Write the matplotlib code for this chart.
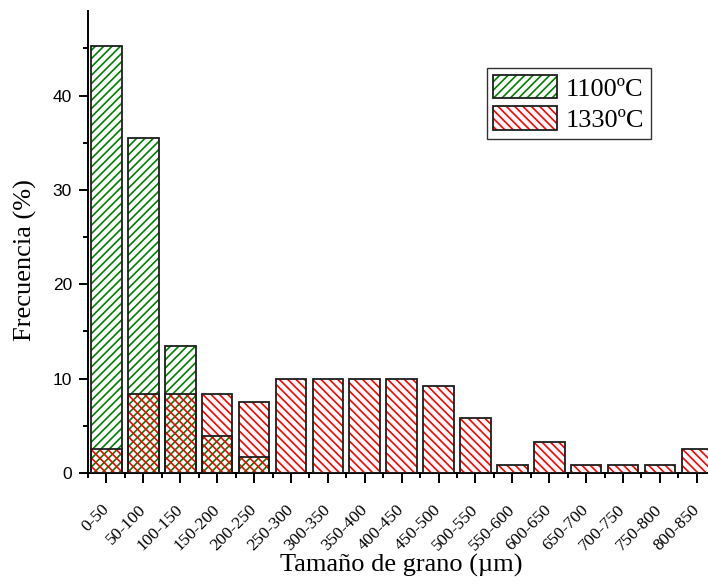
import matplotlib
matplotlib.use("Agg")
import matplotlib.pyplot as plt
import numpy as np
from matplotlib.patches import Patch
from matplotlib.legend_handler import HandlerTuple
from matplotlib.ticker import MultipleLocator

# Grain-size classes (µm) and frequency (%) for each sintering temperature
categories = ['0-50', '50-100', '100-150', '150-200', '200-250', '250-300',
              '300-350', '350-400', '400-450', '450-500', '500-550', '550-600',
              '600-650', '650-700', '700-750', '750-800', '800-850']
freq_1100 = [45.3, 35.5, 13.5, 3.9, 1.7, 0, 0, 0, 0, 0, 0, 0, 0, 0, 0, 0, 0]
freq_1330 = [2.5, 8.33, 8.33, 8.33, 7.5, 10.0, 10.0, 10.0, 10.0, 9.17, 5.83,
             0.83, 3.33, 0.83, 0.83, 0.83, 2.5]
series_labels = ['1100ºC', '1330ºC']

GREEN = '#008000'
RED = '#ff0000'
EDGE = '#1e1e1e'
SERIF = 'Liberation Serif'
SANS = 'Liberation Sans'
HATCH_G = '////'
HATCH_R = '\\\\\\\\'

plt.rcParams['hatch.linewidth'] = 1.2

fig = plt.figure(figsize=(7.08, 5.86), dpi=100)
ax = fig.add_axes([0.1243, 0.1928, 0.886, 0.789])

x = np.arange(len(categories))
width = 0.83
g = np.array(freq_1100)
r = np.array(freq_1330)
gm = g > 0
rm = r > 0

# hatched fills: green first, red on top with transparent face so both show
ax.bar(x[gm], g[gm], width, facecolor='white', edgecolor=GREEN,
       hatch=HATCH_G, linewidth=0, zorder=2)
ax.bar(x[rm], r[rm], width, facecolor='none', edgecolor=RED,
       hatch=HATCH_R, linewidth=0, zorder=3)
# dark outlines
ax.bar(x[gm], g[gm], width, facecolor='none', edgecolor=EDGE,
       linewidth=1.3, zorder=4)
ax.bar(x[rm], r[rm], width, facecolor='none', edgecolor=EDGE,
       linewidth=1.3, zorder=4)

ax.set_xlim(-0.5, 16.5)
ax.set_ylim(0, 49)

for side in ('top', 'right'):
    ax.spines[side].set_visible(False)
for side in ('left', 'bottom'):
    ax.spines[side].set_linewidth(1.4)
    ax.spines[side].set_color('black')

ax.set_xticks(x)
ax.set_xticks(np.arange(-0.5, len(categories), 1.0), minor=True)
ax.yaxis.set_major_locator(MultipleLocator(10))
ax.yaxis.set_minor_locator(MultipleLocator(5))

ax.tick_params(axis='x', which='major', direction='out', length=7.5,
               width=1.4, pad=17)
ax.tick_params(axis='x', which='minor', direction='out', length=3.8,
               width=1.4)
ax.tick_params(axis='y', which='major', direction='out', length=6.5,
               width=1.4, pad=5, labelsize=12.5)
ax.tick_params(axis='y', which='minor', direction='out', length=3.8,
               width=1.4)

ax.set_xticklabels(categories, rotation=45, ha='right', va='center',
                   rotation_mode='anchor', family=SERIF, fontsize=12.5)
for lbl in ax.get_yticklabels():
    lbl.set_family(SANS)

ax.set_xlabel('Tamaño de grano (µm)', family=SERIF, fontsize=19,
              va='center')
ax.xaxis.set_label_coords(0.5, -0.201)
ax.set_ylabel('Frecuencia (%)', family=SERIF, fontsize=19, va='center')
ax.yaxis.set_label_coords(-0.1, 0.461)

handles = [
    (Patch(facecolor='white', edgecolor=GREEN, hatch=HATCH_G, linewidth=0),
     Patch(facecolor='none', edgecolor=EDGE, linewidth=1.3)),
    (Patch(facecolor='white', edgecolor=RED, hatch=HATCH_R, linewidth=0),
     Patch(facecolor='none', edgecolor=EDGE, linewidth=1.3)),
]
leg = ax.legend(handles, series_labels,
                handler_map={tuple: HandlerTuple(ndivide=1, pad=0)},
                loc='upper left', bbox_to_anchor=(486.7 / 708, 1 - 68.3 / 586),
                bbox_transform=fig.transFigure, borderaxespad=0,
                prop={'family': SERIF, 'size': 19},
                handlelength=2.4, handleheight=0.98, handletextpad=0.35,
                labelspacing=0.22, borderpad=0.25,
                fancybox=False, frameon=True)
leg.get_frame().set_edgecolor('black')
leg.get_frame().set_linewidth(1.0)

fig.savefig('out.png', dpi=100)
